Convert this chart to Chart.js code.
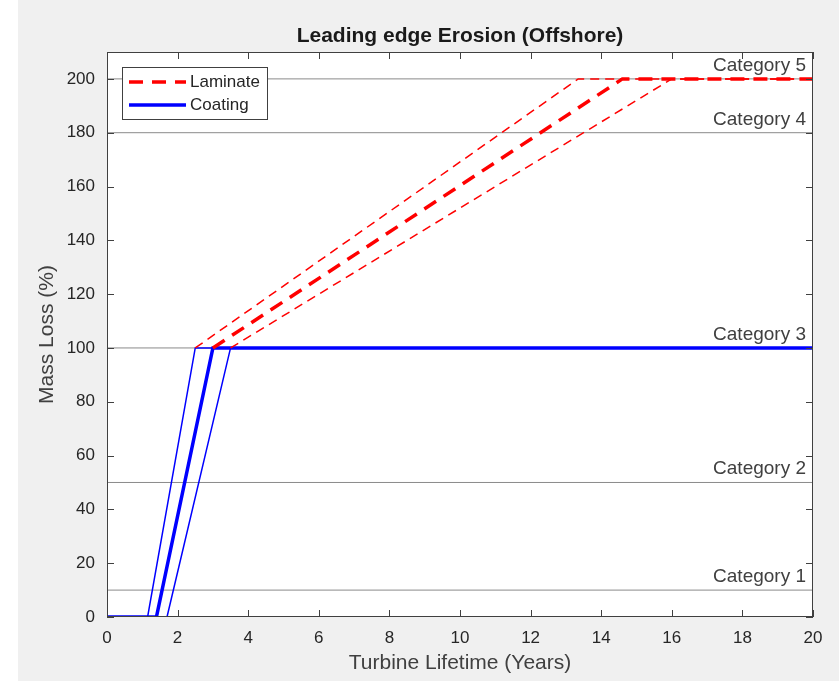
<!DOCTYPE html>
<html>
<head>
<meta charset="utf-8">
<script src="https://cdn.jsdelivr.net/npm/chart.js@4.4.1/dist/chart.umd.min.js"></script>
<style>
  html, body { margin: 0; padding: 0; background: #fff; }
  #wrap { position: absolute; left: 18px; top: 0; width: 821px; height: 681px; background: #f0f0f0; }
</style>
</head>
<body>
<div id="wrap"><canvas id="myChart" width="821" height="681"></canvas></div>
<script>
// values
var xTicks = [0, 2, 4, 6, 8, 10, 12, 14, 16, 18, 20];
var yTicks = [0, 20, 40, 60, 80, 100, 120, 140, 160, 180, 200];

var laminateYears = [3, 14.6, 20];
var laminateLoss = [100, 200, 200];
var laminateHiYears = [2.5, 13.35, 20];
var laminateHiLoss = [100, 200, 200];
var laminateLoYears = [3.5, 16, 20];
var laminateLoLoss = [100, 200, 200];

var coatingYears = [0, 1.4, 3, 20];
var coatingLoss = [0, 0, 100, 100];
var coatingHiYears = [0, 1.15, 2.5, 20];
var coatingHiLoss = [0, 0, 100, 100];
var coatingLoYears = [0, 1.7, 3.5, 20];
var coatingLoLoss = [0, 0, 100, 100];

var categoryNames = ['Category 1', 'Category 2', 'Category 3', 'Category 4', 'Category 5'];
var categoryLevels = [10, 50, 100, 180, 200];

function pts(xs, ys) {
  return xs.map(function (x, i) { return { x: x, y: ys[i] }; });
}

var FONT = '"Liberation Sans", Arial, sans-serif';
var TEXT = '#404040';

var datasets = [];
categoryLevels.forEach(function (lv, i) {
  datasets.push({
    label: categoryNames[i],
    data: pts([0, 20], [lv, lv]),
    borderColor: '#8a8a8a', borderWidth: 1, order: 10
  });
});
datasets.push({ label: 'coatingHi', data: pts(coatingHiYears, coatingHiLoss), borderColor: '#0000ff', borderWidth: 1.5, order: 5 });
datasets.push({ label: 'coatingLo', data: pts(coatingLoYears, coatingLoLoss), borderColor: '#0000ff', borderWidth: 1.5, order: 5 });
datasets.push({ label: 'Coating', data: pts(coatingYears, coatingLoss), borderColor: '#0000ff', borderWidth: 3.5, order: 4 });
datasets.push({ label: 'laminateHi', data: pts(laminateHiYears, laminateHiLoss), borderColor: '#ff0000', borderWidth: 1.5, borderDash: [9, 6], order: 3 });
datasets.push({ label: 'laminateLo', data: pts(laminateLoYears, laminateLoLoss), borderColor: '#ff0000', borderWidth: 1.5, borderDash: [9, 6], order: 3 });
datasets.push({ label: 'Laminate', data: pts(laminateYears, laminateLoss), borderColor: '#ff0000', borderWidth: 3.5, borderDash: [14, 9], order: 2 });

var decor = {
  id: 'decor',
  beforeDatasetsDraw: function (chart) {
    var c = chart.ctx, a = chart.chartArea;
    c.save();
    c.fillStyle = '#ffffff';
    c.fillRect(a.left, a.top, a.right - a.left, a.bottom - a.top);
    c.restore();
  },
  afterDatasetsDraw: function (chart) {
    var c = chart.ctx, a = chart.chartArea;
    var xs = chart.scales.x, ys = chart.scales.y;
    c.save();
    // category labels
    c.font = '19px ' + FONT;
    c.fillStyle = TEXT;
    c.textAlign = 'right';
    c.textBaseline = 'alphabetic';
    categoryLevels.forEach(function (lv, i) {
      c.fillText(categoryNames[i], a.right - 7, ys.getPixelForValue(lv) - 8);
    });
    // frame and inward ticks
    c.strokeStyle = '#404040';
    c.lineWidth = 1;
    c.strokeRect(a.left + 0.5, a.top + 0.5, a.right - a.left - 1, a.bottom - a.top - 1);
    c.beginPath();
    xTicks.forEach(function (t) {
      var px = Math.round(xs.getPixelForValue(t)) + 0.5;
      c.moveTo(px, a.bottom); c.lineTo(px, a.bottom - 7);
      c.moveTo(px, a.top); c.lineTo(px, a.top + 7);
    });
    yTicks.forEach(function (t) {
      var py = Math.round(ys.getPixelForValue(t)) + 0.5;
      c.moveTo(a.left, py); c.lineTo(a.left + 7, py);
      c.moveTo(a.right, py); c.lineTo(a.right - 7, py);
    });
    c.stroke();
    // legend
    var lx = a.left + 15, ly = a.top + 15, lw = 145, lh = 52;
    c.fillStyle = '#fff';
    c.fillRect(lx, ly, lw, lh);
    c.strokeStyle = '#404040';
    c.strokeRect(lx + 0.5, ly + 0.5, lw, lh);
    c.lineWidth = 3.5;
    c.strokeStyle = '#ff0000';
    c.setLineDash([14, 9]);
    c.beginPath(); c.moveTo(lx + 7, ly + 15); c.lineTo(lx + 64, ly + 15); c.stroke();
    c.setLineDash([]);
    c.strokeStyle = '#0000ff';
    c.beginPath(); c.moveTo(lx + 7, ly + 38); c.lineTo(lx + 64, ly + 38); c.stroke();
    c.font = '17px ' + FONT;
    c.fillStyle = '#262626';
    c.textAlign = 'left';
    c.textBaseline = 'middle';
    c.fillText('Laminate', lx + 68, ly + 15);
    c.fillText('Coating', lx + 68, ly + 38);
    // title and axis titles
    c.textAlign = 'center';
    c.font = 'bold 21px ' + FONT;
    c.fillStyle = '#1a1a1a';
    c.fillText('Leading edge Erosion (Offshore)', (a.left + a.right) / 2, 36);
    c.font = '21px ' + FONT;
    c.fillStyle = TEXT;
    c.fillText('Turbine Lifetime (Years)', (a.left + a.right) / 2, 663);
    c.translate(29, (a.top + a.bottom) / 2);
    c.rotate(-Math.PI / 2);
    c.fillText('Mass Loss (%)', 0, 0);
    c.restore();
  }
};

var ctx = document.getElementById('myChart').getContext('2d');
var myChart = new Chart(ctx, {
  type: 'scatter',
  data: { datasets: datasets },
  options: {
    responsive: false,
    animation: false,
    showLine: true,
    elements: { point: { radius: 0 }, line: { tension: 0 } },
    layout: { padding: { left: 0, right: 26, top: 52, bottom: 0 } },
    plugins: { legend: { display: false }, tooltip: { enabled: false } },
    scales: {
      x: {
        type: 'linear', min: 0, max: 20,
        afterBuildTicks: function (s) { s.ticks = xTicks.map(function (v) { return { value: v }; }); },
        afterFit: function (s) { s.height = 64; },
        grid: { display: false, drawTicks: false },
        border: { display: false },
        ticks: { padding: 11, color: '#262626', font: { family: FONT, size: 17 }, maxRotation: 0 }
      },
      y: {
        type: 'linear', min: 0, max: 210,
        afterBuildTicks: function (s) { s.ticks = yTicks.map(function (v) { return { value: v }; }); },
        afterFit: function (s) { s.width = 89; },
        grid: { display: false, drawTicks: false },
        border: { display: false },
        ticks: { padding: 12, color: '#262626', font: { family: FONT, size: 17 } }
      }
    }
  },
  plugins: [decor]
});
</script>
</body>
</html>
